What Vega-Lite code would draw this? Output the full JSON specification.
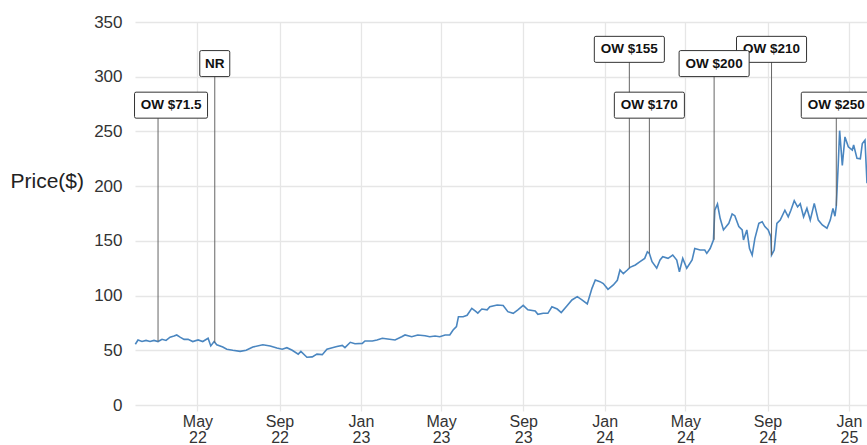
{
  "$schema": "https://vega.github.io/schema/vega-lite/v6.json",
  "width": 732,
  "height": 383,
  "autosize": {"type": "none"},
  "padding": {"left": 135, "top": 22, "right": 0, "bottom": 40},
  "background": "white",
  "config": {"view": {"stroke": null}, "font": "Liberation Sans"},
  "datasets": {
    "price": [
      {"date":"2022-01-28","price":55.5},{"date":"2022-02-01","price":59.4},{"date":"2022-02-07","price":58},{"date":"2022-02-13","price":59},{"date":"2022-02-19","price":58},{"date":"2022-02-25","price":59},{"date":"2022-03-03","price":58},{"date":"2022-03-09","price":60},{"date":"2022-03-15","price":59},{"date":"2022-03-21","price":62},{"date":"2022-03-27","price":63},{"date":"2022-03-31","price":64},{"date":"2022-04-05","price":62},{"date":"2022-04-11","price":60},{"date":"2022-04-17","price":60},{"date":"2022-04-24","price":58},{"date":"2022-05-02","price":59.5},{"date":"2022-05-09","price":58},{"date":"2022-05-17","price":61},{"date":"2022-05-21","price":54},{"date":"2022-05-26","price":58},{"date":"2022-05-30","price":55},{"date":"2022-06-08","price":53},{"date":"2022-06-14","price":51},{"date":"2022-06-23","price":50},{"date":"2022-07-04","price":49},{"date":"2022-07-13","price":50},{"date":"2022-07-23","price":53},{"date":"2022-08-07","price":55},{"date":"2022-08-18","price":54},{"date":"2022-08-28","price":52},{"date":"2022-09-05","price":51},{"date":"2022-09-12","price":52.4},{"date":"2022-09-20","price":50},{"date":"2022-09-29","price":46.5},{"date":"2022-10-03","price":49},{"date":"2022-10-12","price":43.6},{"date":"2022-10-20","price":44},{"date":"2022-10-27","price":46.5},{"date":"2022-11-04","price":46},{"date":"2022-11-11","price":51},{"date":"2022-11-19","price":52.4},{"date":"2022-11-26","price":53.4},{"date":"2022-12-04","price":54.4},{"date":"2022-12-08","price":52.4},{"date":"2022-12-16","price":57.3},{"date":"2022-12-23","price":56},
      {"date":"2023-01-03","price":56.3},{"date":"2023-01-07","price":58.5},{"date":"2023-01-18","price":58.5},{"date":"2023-01-25","price":59.4},{"date":"2023-02-02","price":61},{"date":"2023-02-10","price":60.3},{"date":"2023-02-21","price":59.4},{"date":"2023-03-03","price":62.4},{"date":"2023-03-08","price":64},{"date":"2023-03-18","price":62.4},{"date":"2023-03-27","price":64},{"date":"2023-04-07","price":63.3},{"date":"2023-04-14","price":62.4},{"date":"2023-04-22","price":63},{"date":"2023-04-29","price":62.4},{"date":"2023-05-07","price":64},{"date":"2023-05-14","price":64},{"date":"2023-05-19","price":68.5},{"date":"2023-05-24","price":71.6},{"date":"2023-05-27","price":80.7},{"date":"2023-06-03","price":80.7},{"date":"2023-06-09","price":82},{"date":"2023-06-16","price":88.3},{"date":"2023-06-21","price":86},{"date":"2023-06-25","price":84},{"date":"2023-07-01","price":87.7},{"date":"2023-07-09","price":87},{"date":"2023-07-13","price":89.8},{"date":"2023-07-24","price":91.4},{"date":"2023-08-02","price":91},{"date":"2023-08-09","price":85.3},{"date":"2023-08-17","price":83.8},{"date":"2023-08-24","price":87},{"date":"2023-09-01","price":91},{"date":"2023-09-08","price":87},{"date":"2023-09-19","price":86},{"date":"2023-09-23","price":82.9},{"date":"2023-10-01","price":83.8},{"date":"2023-10-08","price":83.8},{"date":"2023-10-14","price":89.8},{"date":"2023-10-22","price":87.7},{"date":"2023-10-28","price":84.5},{"date":"2023-11-06","price":91},{"date":"2023-11-13","price":96},{"date":"2023-11-21","price":99},{"date":"2023-11-28","price":96},{"date":"2023-12-06","price":92.3},{"date":"2023-12-13","price":106.6},{"date":"2023-12-18","price":114.2},{"date":"2023-12-25","price":112.7},{"date":"2023-12-30","price":111},
      {"date":"2024-01-06","price":105.7},{"date":"2024-01-14","price":109.7},{"date":"2024-01-20","price":114},{"date":"2024-01-24","price":123.4},{"date":"2024-01-29","price":120},{"date":"2024-02-04","price":123.4},{"date":"2024-02-08","price":125.8},{"date":"2024-02-16","price":128},{"date":"2024-02-23","price":131},{"date":"2024-03-01","price":134},{"date":"2024-03-05","price":140},{"date":"2024-03-08","price":138.5},{"date":"2024-03-12","price":131},{"date":"2024-03-19","price":125},{"date":"2024-03-24","price":132.5},{"date":"2024-03-28","price":135.5},{"date":"2024-04-05","price":134},{"date":"2024-04-12","price":137},{"date":"2024-04-18","price":132.5},{"date":"2024-04-22","price":121.8},{"date":"2024-04-27","price":134},{"date":"2024-05-03","price":125},{"date":"2024-05-11","price":132.5},{"date":"2024-05-15","price":143},{"date":"2024-05-23","price":141.6},{"date":"2024-05-30","price":141.6},{"date":"2024-06-02","price":138.6},{"date":"2024-06-07","price":143},{"date":"2024-06-12","price":150.8},{"date":"2024-06-14","price":178},{"date":"2024-06-18","price":183.7},{"date":"2024-06-22","price":170.6},{"date":"2024-06-27","price":160},{"date":"2024-07-05","price":166},{"date":"2024-07-10","price":174.5},{"date":"2024-07-14","price":173},{"date":"2024-07-20","price":163},{"date":"2024-07-25","price":160},{"date":"2024-07-27","price":150.8},{"date":"2024-08-01","price":160},{"date":"2024-08-05","price":143},{"date":"2024-08-09","price":137},{"date":"2024-08-13","price":152},{"date":"2024-08-19","price":166},{"date":"2024-08-24","price":167.5},{"date":"2024-08-28","price":163},{"date":"2024-09-02","price":160},{"date":"2024-09-06","price":153.8},{"date":"2024-09-07","price":137},{"date":"2024-09-11","price":141.6},{"date":"2024-09-15","price":166},{"date":"2024-09-20","price":169},{"date":"2024-09-27","price":178},{"date":"2024-10-02","price":172},{"date":"2024-10-06","price":178},{"date":"2024-10-11","price":186.7},{"date":"2024-10-16","price":181},{"date":"2024-10-20","price":184},{"date":"2024-10-25","price":172},{"date":"2024-10-30","price":179.7},{"date":"2024-11-04","price":169},{"date":"2024-11-10","price":184.3},{"date":"2024-11-16","price":169},{"date":"2024-11-22","price":164.5},{"date":"2024-11-29","price":161.5},{"date":"2024-12-04","price":169},{"date":"2024-12-08","price":179.7},{"date":"2024-12-11","price":172.5},{"date":"2024-12-13","price":182},{"date":"2024-12-16","price":221},{"date":"2024-12-18","price":250.7},{"date":"2024-12-22","price":219},{"date":"2024-12-26","price":245},{"date":"2024-12-31","price":236},
      {"date":"2025-01-06","price":233},{"date":"2025-01-08","price":237.6},{"date":"2025-01-13","price":225.4},{"date":"2025-01-18","price":225},{"date":"2025-01-21","price":239},{"date":"2025-01-25","price":242},{"date":"2025-01-28","price":202.6}
    ],
    "notes": [
      {"date":"2022-03-03","label":"OW $71.5","level":274,"price":58},
      {"date":"2022-05-27","label":"NR","level":312,"price":57},
      {"date":"2024-02-07","label":"OW $155","level":325,"price":125},
      {"date":"2024-03-08","label":"OW $170","level":274,"price":138.5},
      {"date":"2024-06-13","label":"OW $200","level":312,"price":151},
      {"date":"2024-09-07","label":"OW $210","level":325,"price":137},
      {"date":"2024-12-13","label":"OW $250","level":274,"price":182}
    ]
  },
  "encoding": {
    "x": {
      "field": "date",
      "type": "temporal",
      "scale": {
        "type": "utc",
        "domain": [
          {"year": 2022, "month": 1, "date": 27, "hours": 12, "utc": true},
          {"year": 2025, "month": 1, "date": 28, "utc": true}
        ]
      },
      "axis": {
        "title": null,
        "grid": true,
        "gridColor": "#e6e6e6",
        "gridWidth": 1.3,
        "domain": false,
        "ticks": true,
        "tickColor": "#e6e6e6",
        "tickWidth": 1.3,
        "tickSize": 6,
        "tickCount": {"interval": "month", "step": 4},
        "labelExpr": "[utcFormat(datum.value, '%b'), utcFormat(datum.value, '%y')]",
        "labelFontSize": 16,
        "labelColor": "#333",
        "labelPadding": 2,
        "labelLineHeight": 16
      }
    }
  },
  "layer": [
    {
      "data": {"name": "price"},
      "mark": {"type": "line", "color": "#4a86c0", "strokeWidth": 1.6},
      "encoding": {
        "y": {
          "field": "price",
          "type": "quantitative",
          "scale": {"domain": [0, 350], "nice": false},
          "axis": {
            "title": "Price($)",
            "titleAngle": 0,
            "titleFontSize": 21,
            "titleFontWeight": "normal",
            "titleColor": "#222",
            "titleAlign": "left",
            "titleBaseline": "middle",
            "titleX": -125,
            "titleY": 159,
            "grid": true,
            "gridColor": "#e6e6e6",
            "gridWidth": 1.3,
            "domain": false,
            "ticks": false,
            "values": [0, 50, 100, 150, 200, 250, 300, 350],
            "labelFontSize": 17,
            "labelColor": "#333",
            "labelPadding": 13
          }
        }
      }
    },
    {
      "data": {"name": "notes"},
      "mark": {"type": "rule", "color": "#666", "strokeWidth": 1},
      "encoding": {
        "y": {"field": "price", "type": "quantitative", "title": "Price($)"},
        "y2": {"field": "level"}
      }
    },
    {
      "data": {"name": "notes"},
      "transform": [{"filter": "datum.label !== 'OW $71.5' && datum.label !== 'OW $200'"}],
      "mark": {"type": "point", "filled": true, "fill": "white", "stroke": "#333", "strokeWidth": 1, "size": 676, "opacity": 1, "fillOpacity": 1, "strokeOpacity": 1},
      "encoding": {
        "y": {"field": "level", "type": "quantitative", "title": "Price($)"},
        "shape": {
          "field": "label",
          "type": "nominal",
          "legend": null,
          "scale": {
            "domain": ["NR", "OW $155", "OW $170", "OW $210", "OW $250"],
            "range": [
              "M-1.034,-1H1.034Q1.154,-1 1.154,-0.88V0.88Q1.154,1 1.034,1H-1.034Q-1.154,1 -1.154,0.88V-0.88Q-1.154,-1 -1.034,-1Z",
              "M-2.574,-1H2.574Q2.694,-1 2.694,-0.88V0.88Q2.694,1 2.574,1H-2.574Q-2.694,1 -2.694,0.88V-0.88Q-2.694,-1 -2.574,-1Z",
              "M-2.574,-1H2.574Q2.694,-1 2.694,-0.88V0.88Q2.694,1 2.574,1H-2.574Q-2.694,1 -2.694,0.88V-0.88Q-2.694,-1 -2.574,-1Z",
              "M-2.574,-1H2.574Q2.694,-1 2.694,-0.88V0.88Q2.694,1 2.574,1H-2.574Q-2.694,1 -2.694,0.88V-0.88Q-2.694,-1 -2.574,-1Z",
              "M-2.574,-1H2.574Q2.694,-1 2.694,-0.88V0.88Q2.694,1 2.574,1H-2.574Q-2.694,1 -2.694,0.88V-0.88Q-2.694,-1 -2.574,-1Z"
            ]
          }
        }
      }
    },
    {
      "data": {"name": "notes"},
      "transform": [{"filter": "datum.label !== 'OW $71.5' && datum.label !== 'OW $200'"}],
      "mark": {"type": "text", "fontSize": 13.5, "fontWeight": "bold", "color": "#111", "align": "center", "baseline": "middle", "font": "Liberation Sans"},
      "encoding": {
        "y": {"field": "level", "type": "quantitative", "title": "Price($)"},
        "text": {"field": "label"}
      }
    },
    {
      "data": {"name": "notes"},
      "transform": [{"filter": "datum.label === 'OW $200'"}],
      "mark": {"type": "point", "filled": true, "fill": "white", "stroke": "#333", "strokeWidth": 1, "size": 676, "opacity": 1, "fillOpacity": 1,
        "shape": "M-2.574,-1H2.574Q2.694,-1 2.694,-0.88V0.88Q2.694,1 2.574,1H-2.574Q-2.694,1 -2.694,0.88V-0.88Q-2.694,-1 -2.574,-1Z"},
      "encoding": {
        "y": {"field": "level", "type": "quantitative", "title": "Price($)"}
      }
    },
    {
      "data": {"name": "notes"},
      "transform": [{"filter": "datum.label === 'OW $200'"}],
      "mark": {"type": "text", "fontSize": 13.5, "fontWeight": "bold", "color": "#111", "align": "center", "baseline": "middle", "font": "Liberation Sans"},
      "encoding": {
        "y": {"field": "level", "type": "quantitative", "title": "Price($)"},
        "text": {"field": "label"}
      }
    },
    {
      "data": {"name": "notes"},
      "transform": [{"filter": "datum.label === 'OW $71.5'"}],
      "mark": {"type": "point", "filled": true, "fill": "white", "stroke": "#333", "strokeWidth": 1, "size": 676, "opacity": 1, "fillOpacity": 1, "xOffset": 13,
        "shape": "M-2.688,-1H2.688Q2.808,-1 2.808,-0.88V0.88Q2.808,1 2.688,1H-2.688Q-2.808,1 -2.808,0.88V-0.88Q-2.808,-1 -2.688,-1Z"},
      "encoding": {
        "y": {"field": "level", "type": "quantitative", "title": "Price($)"}
      }
    },
    {
      "data": {"name": "notes"},
      "transform": [{"filter": "datum.label === 'OW $71.5'"}],
      "mark": {"type": "text", "fontSize": 13.5, "fontWeight": "bold", "color": "#111", "align": "center", "baseline": "middle", "font": "Liberation Sans", "xOffset": 13},
      "encoding": {
        "y": {"field": "level", "type": "quantitative", "title": "Price($)"},
        "text": {"field": "label"}
      }
    }
  ]
}
